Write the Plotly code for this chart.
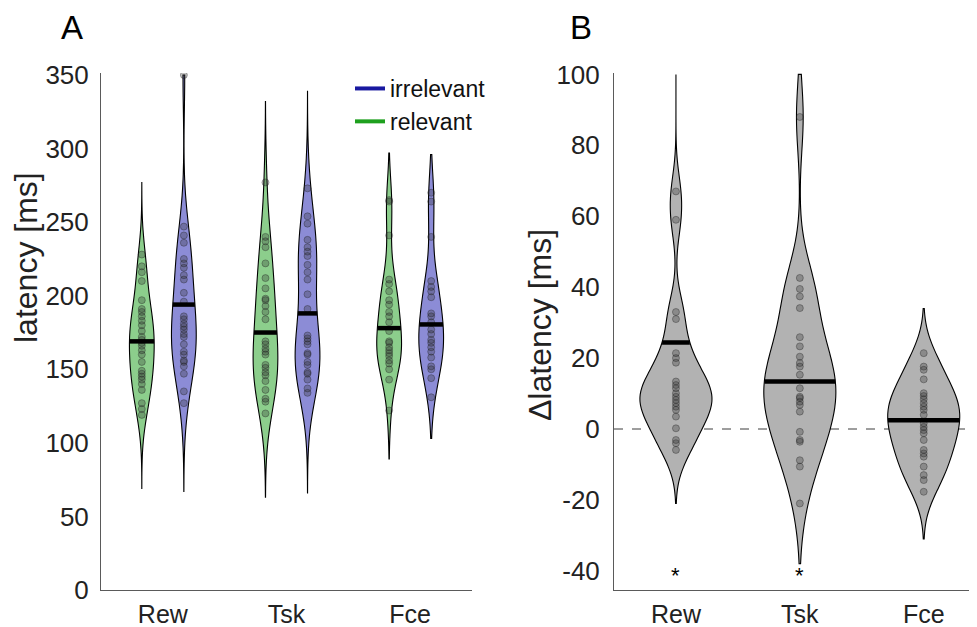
import numpy as np
import plotly.graph_objects as go

categories = ['Rew', 'Tsk', 'Fce']
cat_pos = [1, 2, 3]

# Panel A: latency per subject [ms]
rel_rew = [228, 220, 216, 210, 197, 191, 189, 186, 183, 180, 176, 172, 170, 168, 166,
           163, 160, 155, 149, 147, 145, 143, 140, 136, 127, 123, 119]
irr_rew = [350, 247, 241, 236, 225, 222, 219, 214, 211, 202, 196, 186, 184, 181, 179,
           177, 174, 172, 167, 162, 160, 156, 155, 152, 147, 135, 127]
rel_tsk = [277, 240, 237, 233, 222, 212, 205, 198, 197, 193, 189, 184, 169, 167, 164,
           162, 160, 153, 151, 148, 146, 142, 136, 130, 128, 120]
irr_tsk = [273, 254, 249, 238, 233, 230, 227, 221, 216, 211, 201, 191, 173, 171, 169,
           167, 161, 160, 155, 153, 148, 147, 143, 137, 134]
rel_fce = [265, 264, 241, 211, 208, 203, 197, 194, 189, 186, 182, 176, 169, 168, 165,
           163, 161, 159, 156, 154, 150, 143, 122]
irr_fce = [270, 264, 240, 210, 206, 203, 199, 188, 186, 182, 177, 174, 170, 168, 165,
           162, 158, 152, 150, 144, 131]

# Panel B: latency difference [ms]
d_rew = [67, 59, 33, 31, 21.4, 20, 18.7, 13.4, 12.4, 11.5, 10.1, 9.1, 8.2, 7.3, 6.3,
         5.4, 3.5, 0.2, -3.1, -4.0, -5.9]
d_tsk = [88, 42.6, 39.5, 37.4, 34.1, 25.9, 23.3, 20.4, 18.6, 17.6, 15.3, 11.5, 9.1,
         8.7, 7.7, 6.8, 4.9, -0.8, -3.1, -3.6, -8.8, -10.6, -21]
d_fce = [21.4, 17.6, 16.7, 14.0, 10.1, 9.3, 8.4, 7.3, 6.3, 5.4, 4.0, 1.6, 0.6, -0.3,
         -1.2, -3.1, -5.9, -6.9, -7.8, -10.6, -13.0, -14.4, -17.7]

# Central-value lines
rel_center = [169, 175, 178]
irr_center = [194, 188, 180.5]
delta_center = [24.4, 13.4, 2.5]

# Extents of the density curves
rel_span = [[69, 277], [63, 332], [89, 297]]
irr_span = [[67, 350], [66, 339], [103, 296]]
delta_span = [[-21, 100], [-38, 100], [-31, 34]]

sig_marks = ['*', '*', '']
sig_level = -40

ticks_a = [0, 50, 100, 150, 200, 250, 300, 350]
ticks_b = [-40, -20, 0, 20, 40, 60, 80, 100]

FONT = 'Liberation Sans, Arial, sans-serif'
GREEN = 'rgb(140,206,140)'
BLUE = 'rgb(140,140,214)'
GREY = 'rgb(178,178,178)'
PT_FILL = 'rgba(45,45,45,0.30)'
PT_LINE = 'rgba(30,30,30,0.35)'

OFF = 0.17
W_A = 0.2
W_B = 0.58

# page body has an 8px margin -> figure is 8px smaller than the window
FIG_W, FIG_H = 969, 619
ML, MT, MB, MR = 93, 65, 37, 0
PW = FIG_W - ML - MR
PH = FIG_H - MT - MB


def px_to_paper(px, py):
    return (px - 8 - ML) / PW, 1 - (py - 8 - MT) / PH


def bandwidth(v):
    v = np.asarray(v, float)
    n = len(v)
    sd = np.std(v, ddof=1)
    q1, q3 = np.percentile(v, [25, 75])
    return 1.059 * min(sd, (q3 - q1) / 1.349) * n ** (-0.2)


def halfwidth_at(v, span, level, width):
    v = np.asarray(v, float)
    bw = bandwidth(v)
    kde = lambda x: np.exp(-0.5 * ((x[:, None] - v[None, :]) / bw) ** 2).sum(1)
    grid = np.linspace(span[0], span[1], 600)
    return width / 2 * kde(np.array([level]))[0] / kde(grid).max()


fig = go.Figure()


def add_violin(vals, pos, span, color, width, xa, ya):
    fig.add_trace(go.Violin(
        x=[pos] * len(vals), y=vals, xaxis=xa, yaxis=ya,
        fillcolor=color, line=dict(color='black', width=1.1),
        width=width, scalemode='width', spanmode='manual', span=span,
        bandwidth=bandwidth(vals),
        points='all', pointpos=0, jitter=0,
        marker=dict(size=7, color=PT_FILL, line=dict(color=PT_LINE, width=1)),
        box_visible=False, meanline_visible=False, showlegend=False,
        hoverinfo='skip'))


def add_center(vals, pos, span, level, width, xa, ya):
    hw = halfwidth_at(vals, span, level, width)
    fig.add_trace(go.Scatter(
        x=[pos - hw, pos + hw], y=[level, level], xaxis=xa, yaxis=ya,
        mode='lines', line=dict(color='black', width=4.5),
        showlegend=False, hoverinfo='skip'))


rel_all = [rel_rew, rel_tsk, rel_fce]
irr_all = [irr_rew, irr_tsk, irr_fce]
d_all = [d_rew, d_tsk, d_fce]

for i, c in enumerate(cat_pos):
    add_violin(rel_all[i], c - OFF, rel_span[i], GREEN, W_A, 'x', 'y')
    add_violin(irr_all[i], c + OFF, irr_span[i], BLUE, W_A, 'x', 'y')
    add_violin(d_all[i], c, delta_span[i], GREY, W_B, 'x2', 'y2')

for i, c in enumerate(cat_pos):
    add_center(rel_all[i], c - OFF, rel_span[i], rel_center[i], W_A, 'x', 'y')
    add_center(irr_all[i], c + OFF, irr_span[i], irr_center[i], W_A, 'x', 'y')
    add_center(d_all[i], c, delta_span[i], delta_center[i], W_B, 'x2', 'y2')

# legend entries
fig.add_trace(go.Scatter(x=[None], y=[None], mode='lines', name='irrelevant',
                         line=dict(color='rgb(25,25,160)', width=4)))
fig.add_trace(go.Scatter(x=[None], y=[None], mode='lines', name='relevant',
                         line=dict(color='rgb(30,160,30)', width=4)))

axis_common = dict(showline=True, linecolor='rgb(90,90,90)', linewidth=1,
                   showgrid=False, zeroline=False, ticks='', automargin=False)
tick_y = dict(size=26, color='#222', family=FONT)
tick_x = dict(size=25, color='#222', family=FONT)

lx, ly = px_to_paper(350, 67)
ax_, ay_ = px_to_paper(72, 28)
bx_, by_ = px_to_paper(581, 28)
tx_a, ty_a = px_to_paper(26, 258)
tx_b, ty_b = px_to_paper(540, 325)

annotations = [
    dict(text='A', xref='paper', yref='paper', x=ax_, y=ay_, showarrow=False,
         font=dict(size=33, color='black', family=FONT), xanchor='center', yanchor='middle'),
    dict(text='B', xref='paper', yref='paper', x=bx_, y=by_, showarrow=False,
         font=dict(size=33, color='black', family=FONT), xanchor='center', yanchor='middle'),
    dict(text='latency [ms]', xref='paper', yref='paper', x=tx_a, y=ty_a,
         textangle=-90, showarrow=False, xanchor='center', yanchor='middle',
         font=dict(size=32, color='#222', family=FONT)),
    dict(text='\u0394latency [ms]', xref='paper', yref='paper', x=tx_b, y=ty_b,
         textangle=-90, showarrow=False, xanchor='center', yanchor='middle',
         font=dict(size=32, color='#222', family=FONT)),
]
# significance marks
for c, m in zip(cat_pos, sig_marks):
    if m:
        annotations.append(dict(text=m, xref='x2', yref='y2', x=c, y=sig_level,
                                showarrow=False, yshift=-5, xanchor='center',
                                yanchor='middle',
                                font=dict(size=22, color='black', family=FONT)))

fig.update_layout(
    width=FIG_W, height=FIG_H,
    margin=dict(l=ML, r=MR, t=MT, b=MB, autoexpand=False),
    paper_bgcolor='white', plot_bgcolor='white',
    violinmode='overlay',
    font=dict(family=FONT, color='#222'),
    xaxis=dict(domain=[0, 371 / PW], range=[0.5, 3.5], tickvals=cat_pos,
               ticktext=categories, anchor='y', ticklabelstandoff=2,
               tickfont=tick_x, **axis_common),
    yaxis=dict(domain=[0, 1], range=[0, 351.4], tickvals=ticks_a, anchor='x',
               ticklabelstandoff=6, tickfont=tick_y, **axis_common),
    xaxis2=dict(domain=[513 / PW, 1], range=[0.5, 3.43], tickvals=cat_pos,
                ticktext=categories, anchor='y2', ticklabelstandoff=2,
                tickfont=tick_x, **axis_common),
    yaxis2=dict(domain=[0, 1], range=[-45.4, 100.4], tickvals=ticks_b,
                ticktext=[str(t) for t in ticks_b], anchor='x2',
                ticklabelstandoff=8, tickfont=tick_y, **axis_common),
    legend=dict(x=lx, y=ly, xanchor='left', yanchor='top',
                font=dict(size=23, color='#111', family=FONT),
                bgcolor='rgba(0,0,0,0)', itemwidth=30, tracegroupgap=0),
    shapes=[dict(type='line', xref='x2 domain', yref='y2', x0=0, x1=1, y0=0, y1=0,
                 line=dict(color='rgb(60,60,60)', width=1, dash='dash'), layer='below')],
    annotations=annotations,
)

fig.write_html('out.html')
